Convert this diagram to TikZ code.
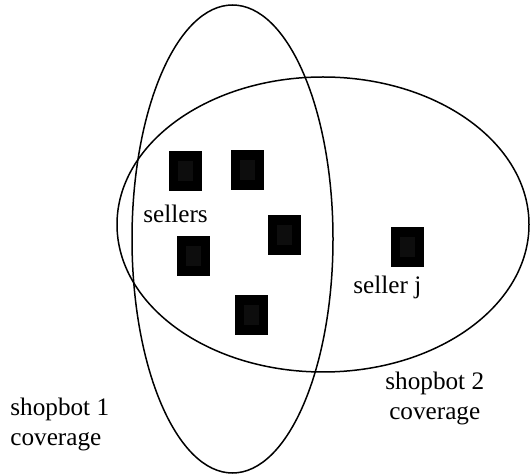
\documentclass[tikz,border=0pt]{standalone}
\usepackage{fontspec}
\setmainfont{Liberation Serif}
\begin{document}
\begin{tikzpicture}[x=0.5pt,y=-0.5pt,
  seller/.style={draw=none,fill=black,minimum width=16.5pt,minimum height=20pt,inner sep=0pt,
    path picture={\fill[black!95!white] ([xshift=4.5pt,yshift=-5pt]path picture bounding box.north west)
      rectangle ([xshift=-4.5pt,yshift=5pt]path picture bounding box.south east);}},
  label/.style={inner sep=0pt,anchor=base west,font=\fontsize{12.6pt}{15pt}\selectfont},
  region/.style={line width=0.75pt}]
\useasboundingbox (0,0) rectangle (530,475);
% coverage regions of the two shopbots
\draw[region] (232.5,239) ellipse [x radius=100.5, y radius=234];
\draw[region] (323,224.5) ellipse [x radius=206, y radius=147.5];
% sellers
\node[seller] (s1) at (185,171) {};
\node[seller] (s2) at (247.5,170) {};
\node[seller] (s3) at (284,235.5) {};
\node[seller] (s4) at (193,256) {};
\node[seller] (s5) at (251.5,315) {};
\node[seller] (sj) at (407,247.5) {};
% labels (base anchor sits on the last line of a two-line label)
\node[label] (lsellers) at (143,223) {sellers};
\node[label] (lsellerj) at (353,294) {seller j};
\node[label,align=left] (lbot1) at (10,445) {shopbot 1\\coverage};
\node[label,align=center] (lbot2) at (385,420) {shopbot 2\\coverage};
\end{tikzpicture}
\end{document}
